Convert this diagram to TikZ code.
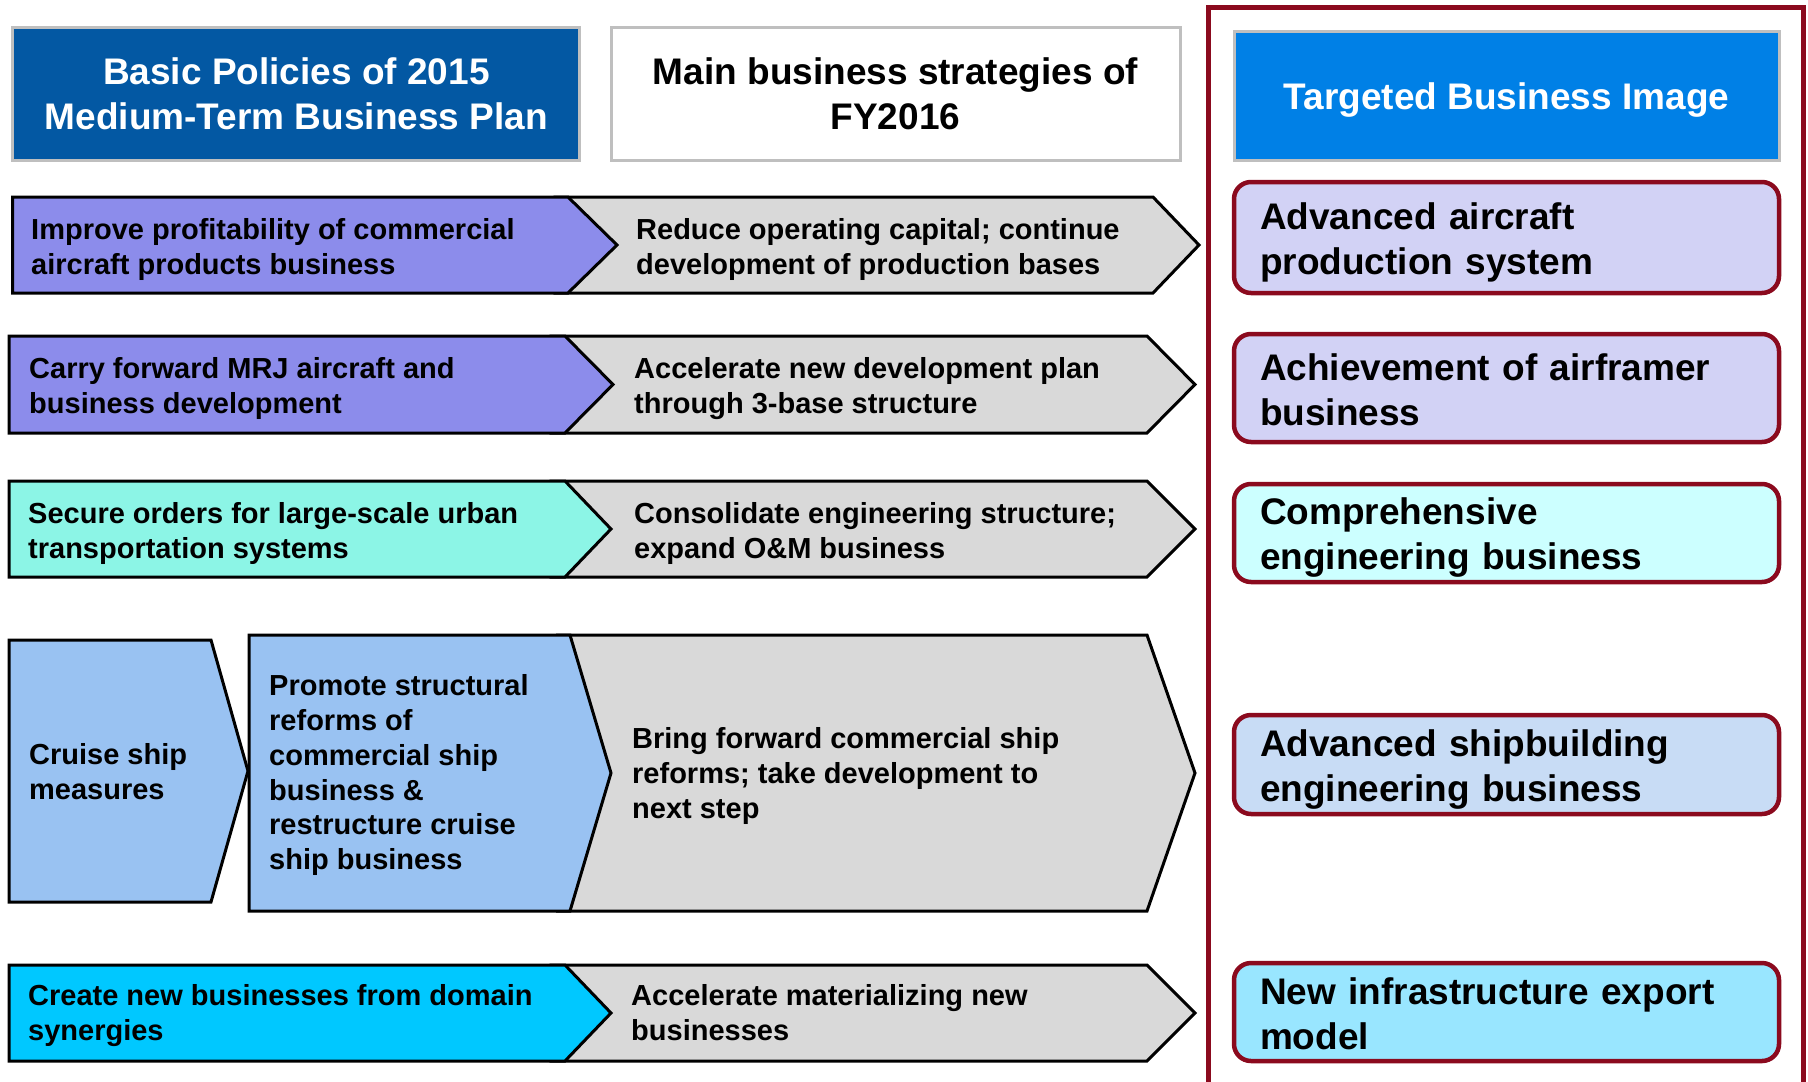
\documentclass[tikz,border=0pt]{standalone}
\usepackage{fontspec}
\setmainfont{Liberation Sans}
\definecolor{hdrblue}{HTML}{0358A3}
\definecolor{imgblue}{HTML}{0080E6}
\definecolor{hdrline}{HTML}{BFBFBF}
\definecolor{framered}{HTML}{8B0A1E}
\definecolor{arrgray}{HTML}{D9D9D9}
\definecolor{lilac}{HTML}{8C8CEB}
\definecolor{mint}{HTML}{8CF5E6}
\definecolor{skyblue}{HTML}{99C2F2}
\definecolor{cyanb}{HTML}{00C8FF}
\definecolor{lav}{HTML}{D2D2F5}
\definecolor{icecyan}{HTML}{CCFFFF}
\definecolor{paleblue}{HTML}{C8DCF5}
\definecolor{aqua}{HTML}{99E6FF}
\tikzset{
	hdr/.style={draw=hdrline,line width=3pt,align=center,font=\fontsize{37}{45}\selectfont\bfseries},
	arr/.style={draw=black,line width=3pt},
	rowtxt/.style={anchor=west,inner sep=0pt,align=left,yshift=-4.5pt,execute at begin node=\strut,execute at end node=\strut,font=\fontsize{29}{34.8}\selectfont\bfseries},
	imgbox/.style={draw=framered,line width=4.5pt,rounded corners=17pt,minimum width=545pt,text width=493pt,inner xsep=26pt,inner ysep=0pt,align=left,execute at begin node={\rule{0pt}{36pt}},execute at end node={\rule[-7pt]{0pt}{7pt}},font=\fontsize{37}{45}\selectfont\bfseries}
}
\begin{document}
\begin{tikzpicture}[x=1pt,y=-1pt,line join=miter]
	\useasboundingbox (0,0) rectangle (1808,1082);
	%Headers
	\node[hdr,fill=hdrblue,text=white,minimum width=567pt,minimum height=133pt] (policy) at (296.4,93.5) {Basic Policies of 2015\\Medium-Term Business Plan};
	\node[hdr,fill=white,minimum width=569pt,minimum height=133pt] (strategy) at (895.5,93.5) {Main business strategies of\\FY2016};
	\node[hdr,fill=imgblue,text=white,minimum width=545pt,minimum height=129pt,text height=27pt,text depth=0pt] (image) at (1506.5,95.5) {Targeted Business Image};
	%Frame
	\draw[framered,line width=5pt] (1208,1095)--(1208,7)--(1803.5,7)--(1803.5,1095);
	%Row 1
	\draw[arr,fill=arrgray] (557,197)--(1153,197)--(1199,245)--(1153,293)--(557,293)--(606,245)--cycle;
	\draw[arr,fill=lilac] (12.7,197)--(568,197)--(617,245)--(568,293)--(12.7,293)--cycle;
	\node[rowtxt] (profit) at (31,247) {Improve profitability of commercial\\aircraft products business};
	\node[rowtxt] (reduce) at (636,247) {Reduce operating capital; continue\\development of production bases};
	%Row 2
	\draw[arr,fill=arrgray] (553,336)--(1147,336)--(1195,384.5)--(1147,433)--(553,433)--(601,384.5)--cycle;
	\draw[arr,fill=lilac] (9,336)--(565,336)--(613,384.5)--(565,433)--(9,433)--cycle;
	\node[rowtxt] (mrj) at (29,386.5) {Carry forward MRJ aircraft and\\business development};
	\node[rowtxt] (threebase) at (634,386.5) {Accelerate new development plan\\through 3-base structure};
	%Row 3
	\draw[arr,fill=arrgray] (553,481)--(1147,481)--(1195,529)--(1147,577)--(553,577)--(601,529)--cycle;
	\draw[arr,fill=mint] (9,481)--(565,481)--(611,529)--(565,577)--(9,577)--cycle;
	\node[rowtxt] (urban) at (28,531) {Secure orders for large-scale urban\\transportation systems};
	\node[rowtxt] (consol) at (634,531) {Consolidate engineering structure;\\expand O\&M business};
	%Row 4
	\draw[arr,fill=arrgray] (558,635)--(1147,635)--(1195,773)--(1147,911)--(558,911)--(598,773)--cycle;
	\draw[arr,fill=skyblue] (249,635)--(570,635)--(611,773)--(570,911)--(249,911)--cycle;
	\draw[arr,fill=skyblue] (9,640)--(211,640)--(248,771)--(211,902)--(9,902)--cycle;
	\node[rowtxt] (cruise) at (29,772) {Cruise ship\\measures};
	\node[rowtxt] (reform) at (269,773) {Promote structural\\reforms of\\commercial ship\\business \&\\restructure cruise\\ship business};
	\node[rowtxt] (bring) at (632,774) {Bring forward commercial ship\\reforms; take development to\\next step};
	%Row 5
	\draw[arr,fill=arrgray] (553,965)--(1147,965)--(1195,1013)--(1147,1061)--(553,1061)--(601,1013)--cycle;
	\draw[arr,fill=cyanb] (9,965)--(565,965)--(611,1013)--(565,1061)--(9,1061)--cycle;
	\node[rowtxt] (domain) at (28,1013) {Create new businesses from domain\\synergies};
	\node[rowtxt] (newbiz) at (631,1013) {Accelerate materializing new\\businesses};
	%Business image
	\node[imgbox,fill=lav,minimum height=111pt] (aircraft) at (1506.5,237.5) {Advanced aircraft\\production system};
	\node[imgbox,fill=lav,minimum height=108pt] (airframer) at (1506.5,388) {Achievement of airframer\\business};
	\node[imgbox,fill=icecyan,minimum height=98pt] (engineering) at (1506.5,533) {Comprehensive\\engineering business};
	\node[imgbox,fill=paleblue,minimum height=99pt] (shipbuild) at (1506.5,764.5) {Advanced shipbuilding\\engineering business};
	\node[imgbox,fill=aqua,minimum height=98pt] (infra) at (1506.5,1012) {New infrastructure export\\model};
\end{tikzpicture}
\end{document}
